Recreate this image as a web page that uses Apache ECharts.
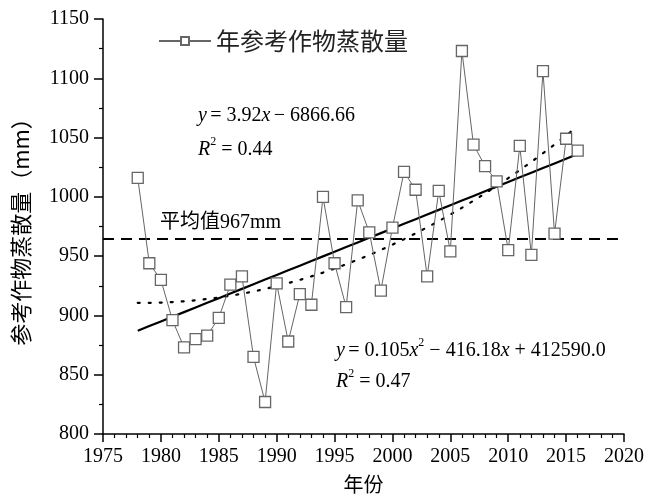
<!DOCTYPE html>
<html><head><meta charset="utf-8">
<script src="https://cdn.jsdelivr.net/npm/echarts@6/dist/echarts.min.js"></script>
<style>html,body{margin:0;padding:0;background:#fff}#c{width:648px;height:499px}</style>
</head><body><div id="c"></div>
<script>
// ---- data ----
var years = [1978,1979,1980,1981,1982,1983,1984,1985,1986,1987,1988,1989,1990,1991,1992,1993,1994,1995,1996,1997,1998,1999,2000,2001,2002,2003,2004,2005,2006,2007,2008,2009,2010,2011,2012,2013,2014,2015,2016];
var et0 = [1016,944,930,896,873,880,883,898,926,933,865,827,927,878,918,909,1000,944,907,997,970,921,974,1021,1006,933,1005,954,1123,1044,1026,1013,955,1043,951,1106,969,1049,1039];
var meanValue = 965;
var linCoef = [3.92, -6866.66]; // y = a*x + b (from chart)
var xTicks = {min:1975, max:2020, step:5};
var yTicks = {min:800, max:1150, step:50};
var seriesName = '年参考作物蒸散量';

// quadratic least-squares fit of the data (trend line)
function quadFit(xs, ys){
  var n=xs.length, xm=0; xs.forEach(function(v){xm+=v}); xm/=n;
  var S=[0,0,0,0,0], T=[0,0,0];
  for(var i=0;i<n;i++){var t=xs[i]-xm; var p=1; for(var k=0;k<5;k++){S[k]+=p; if(k<3)T[k]+=p*ys[i]; p*=t;}}
  var A=[[S[0],S[1],S[2],T[0]],[S[1],S[2],S[3],T[1]],[S[2],S[3],S[4],T[2]]];
  for(var c=0;c<3;c++){for(var r=c+1;r<3;r++){var f=A[r][c]/A[c][c];for(var k=c;k<4;k++)A[r][k]-=f*A[c][k];}}
  var s=[0,0,0];
  for(var r=2;r>=0;r--){var v=A[r][3];for(var k=r+1;k<3;k++)v-=A[r][k]*s[k];s[r]=v/A[r][r];}
  return function(x){var t=x-xm;return s[0]+s[1]*t+s[2]*t*t;};
}
var q = quadFit(years, et0);
var mainData = years.map(function(y,i){return [y, et0[i]];});
var linData = years.map(function(y){return [y, linCoef[0]*y+linCoef[1]];});
var quadData = years.map(function(y){return [y, q(y)];});

var serif = 'Liberation Serif, Times New Roman, serif';
var cjk = 'Liberation Serif, Noto Sans CJK SC, serif';
var chart = echarts.init(document.getElementById('c'), null, {renderer:'canvas'});
var rich = {
  i:{fontFamily:serif, fontStyle:'italic', fontSize:20, color:'#000'},
  n:{fontFamily:serif, fontSize:20, color:'#000'},
  s:{fontFamily:serif, fontSize:12, color:'#000', verticalAlign:'top', lineHeight:28}
};
function plain(v){ return String(v); }
chart.setOption({
  animation:false,
  backgroundColor:'#fff',
  grid:{left:103, right:24, top:19, bottom:63, containLabel:false},
  legend:{
    data:[seriesName], left:153, top:24, itemWidth:52, itemHeight:10, itemGap:14,
    textStyle:{fontFamily:'Noto Sans CJK SC', fontSize:24, color:'#222'}
  },
  xAxis:{
    type:'value', min:xTicks.min, max:xTicks.max, interval:xTicks.step,
    name:'年份', nameLocation:'middle', nameGap:40,
    nameTextStyle:{fontFamily:'Noto Sans CJK SC', fontSize:20, color:'#000'},
    axisLine:{lineStyle:{color:'#000', width:1.5}},
    axisTick:{length:8, lineStyle:{color:'#000', width:1.5}},
    minorTick:{show:true, splitNumber:5, length:4, lineStyle:{color:'#000', width:1.2}},
    splitLine:{show:false},
    axisLabel:{fontFamily:serif, fontSize:20, color:'#000', margin:13, formatter:plain}
  },
  yAxis:{
    type:'value', min:yTicks.min, max:yTicks.max, interval:yTicks.step,
    name:'参考作物蒸散量（mm）', nameLocation:'middle', nameGap:71, nameRotate:90,
    nameTextStyle:{fontFamily:'Noto Sans CJK SC', fontSize:22, color:'#000'},
    axisLine:{show:true, lineStyle:{color:'#000', width:1.5}},
    axisTick:{show:true, length:9, lineStyle:{color:'#000', width:1.5}},
    minorTick:{show:true, splitNumber:2, length:4, lineStyle:{color:'#000', width:1.2}},
    splitLine:{show:false},
    axisLabel:{fontFamily:serif, fontSize:20, color:'#000', margin:14, formatter:plain}
  },
  series:[
    {
      name:seriesName, type:'line', data:mainData, z:5,
      symbol:'rect', symbolSize:11, showAllSymbol:true,
      lineStyle:{color:'#666', width:1},
      itemStyle:{color:'#fff', borderColor:'#666', borderWidth:1.3},
      emphasis:{disabled:true},
      markLine:{
        silent:true, symbol:['none','none'], label:{show:false},
        lineStyle:{color:'#000', type:[11,7], width:2},
        data:[{yAxis:meanValue}]
      }
    },
    {
      name:'linear', type:'line', data:linData, symbol:'none', z:4,
      lineStyle:{color:'#000', width:2.2}
    },
    {
      name:'quad', type:'line', data:quadData, symbol:'none', z:3,
      lineStyle:{color:'#000', width:2.2, type:[2,9], cap:'round'}
    }
  ],
  graphic:[
    {type:'text', left:198, top:106, style:{rich:rich, text:'{i|y} {n|= 3.92}{i|x} {n|− 6866.66}'}},
    {type:'text', left:198, top:136, style:{rich:rich, text:'{i|R}{s|2}{n| = 0.44}'}},
    {type:'text', left:160, top:213, style:{text:'平均值967mm', fontFamily:cjk, fontSize:20, fill:'#000'}},
    {type:'text', left:336, top:337, style:{rich:rich, text:'{i|y} {n|= 0.105}{i|x}{s|2}{n| − 416.18}{i|x}{n| + 412590.0}'}},
    {type:'text', left:336, top:368, style:{rich:rich, text:'{i|R}{s|2}{n| = 0.47}'}}
  ]
});
</script></body></html>
